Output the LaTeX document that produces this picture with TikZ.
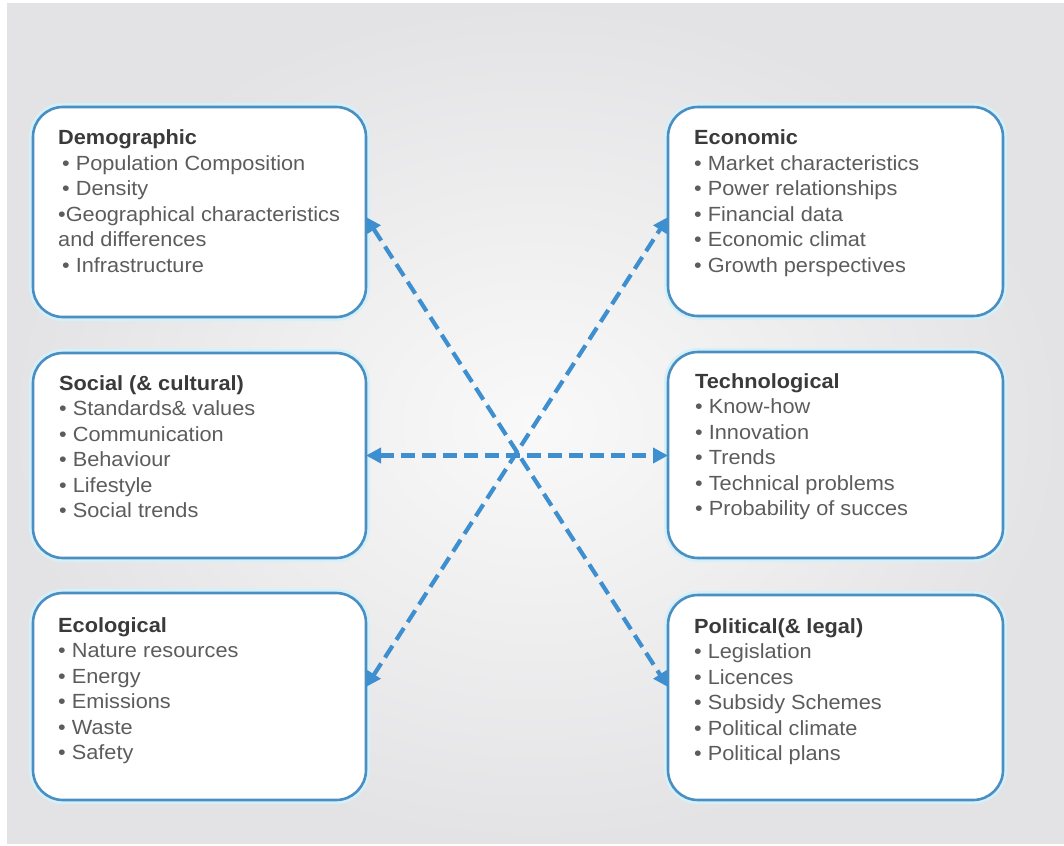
\documentclass[tikz,border=0pt]{standalone}
\usepackage{fontspec}
\setmainfont[FakeStretch=1.06]{Liberation Sans}
\usetikzlibrary{arrows.meta}
\definecolor{boxblue}{HTML}{4A8FC2}
\definecolor{arrblue}{HTML}{3E8FD0}
\definecolor{glow}{HTML}{D6F0FA}
\definecolor{titlegray}{HTML}{3A3A3A}
\definecolor{itemgray}{HTML}{5C5C5C}
\definecolor{bginner}{HTML}{F9F9F9}
\definecolor{bgouter}{HTML}{E3E3E5}
\newcommand\pesttitle[1]{{\bfseries\color{titlegray}#1}}
\begin{document}
\begin{tikzpicture}[x=1pt,y=-1pt,
  pestbox/.style={draw=boxblue, line width=2.6pt, fill=white, rounded corners=30pt,
    outer sep=0pt, inner sep=0pt, preaction={draw=glow, line width=8pt}},
  leftbox/.style={pestbox, minimum width=333pt},
  rightbox/.style={pestbox, minimum width=335pt},
  boxtext/.style={anchor=base west, inner sep=0pt,
    font=\fontsize{20.5}{25.5}\selectfont, text=itemgray},
  conn/.style={draw=arrblue, line width=4.2pt, dash pattern=on 14pt off 7pt,
    {Triangle[length=15pt,width=15pt]}-{Triangle[length=15pt,width=15pt]}}
]
\useasboundingbox (0,0) rectangle (1064,845);
\fill[white] (0,0) rectangle (1064,845);
\shade[inner color=bginner, outer color=bgouter] (7,4) rectangle (1064,843);

% boxes
\node[leftbox, minimum height=210pt] (demo) at (199.5,212) {};
\node[rightbox, minimum height=209pt] (econ) at (835.5,211.5) {};
\node[leftbox, minimum height=205pt] (soc) at (199.5,455.5) {};
\node[rightbox, minimum height=206pt] (tech) at (835.5,455) {};
\node[leftbox, minimum height=207pt] (eco) at (199.5,696.5) {};
\node[rightbox, minimum height=205pt] (pol) at (835.5,697.5) {};

% texts
\node[boxtext] (demotext) at ([xshift=25pt,yshift=-38pt]demo.north west)
  {\begin{tabular}[t]{@{}l@{}}\pesttitle{Demographic}\\
   \hspace{4pt}• Population Composition\\
   \hspace{4pt}• Density\\
   •Geographical characteristics\\
   and differences\\
   \hspace{4pt}• Infrastructure\end{tabular}};
\node[boxtext] (econtext) at ([xshift=26pt,yshift=-38pt]econ.north west)
  {\begin{tabular}[t]{@{}l@{}}\pesttitle{Economic}\\
   • Market characteristics\\
   • Power relationships\\
   • Financial data\\
   • Economic climat\\
   • Growth perspectives\end{tabular}};
\node[boxtext] (soctext) at ([xshift=26pt,yshift=-37pt]soc.north west)
  {\begin{tabular}[t]{@{}l@{}}\pesttitle{Social (\& cultural)}\\
   • Standards\& values\\
   • Communication\\
   • Behaviour\\
   • Lifestyle\\
   • Social trends\end{tabular}};
\node[boxtext] (techtext) at ([xshift=27pt,yshift=-36pt]tech.north west)
  {\begin{tabular}[t]{@{}l@{}}\pesttitle{Technological}\\
   • Know-how\\
   • Innovation\\
   • Trends\\
   • Technical problems\\
   • Probability of succes\end{tabular}};
\node[boxtext] (ecotext) at ([xshift=25pt,yshift=-39pt]eco.north west)
  {\begin{tabular}[t]{@{}l@{}}\pesttitle{Ecological}\\
   • Nature resources\\
   • Energy\\
   • Emissions\\
   • Waste\\
   • Safety\end{tabular}};
\node[boxtext] (poltext) at ([xshift=26pt,yshift=-38pt]pol.north west)
  {\begin{tabular}[t]{@{}l@{}}\pesttitle{Political(\& legal)}\\
   • Legislation\\
   • Licences\\
   • Subsidy Schemes\\
   • Political climate\\
   • Political plans\end{tabular}};

% connectors
\draw[conn] ([yshift=-5pt]demo.east) -- ([yshift=10.5pt]pol.west);
\draw[conn] ([yshift=9.5pt]eco.east) -- ([yshift=-5.5pt]econ.west);
\draw[conn] (soc.east) -- (soc.east -| tech.west);
\end{tikzpicture}
\end{document}
